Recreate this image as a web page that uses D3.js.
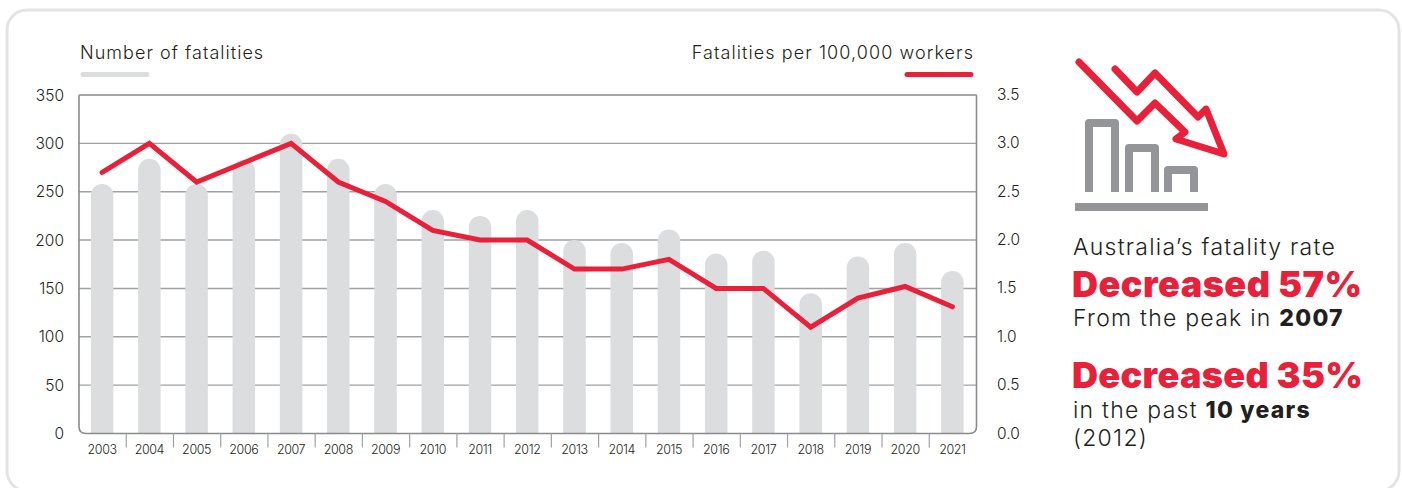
<!DOCTYPE html>
<html><head><meta charset="utf-8">
<script src="https://cdn.jsdelivr.net/npm/d3@7/dist/d3.min.js"></script>
<style>html,body{margin:0;padding:0;background:#fff}svg{display:block}text{font-family:Inter,"Open Sans",sans-serif;fill:#231f20}</style>
</head><body><svg id="c" width="1402" height="488"></svg>
<script>
const years=[2003,2004,2005,2006,2007,2008,2009,2010,2011,2012,2013,2014,2015,2016,2017,2018,2019,2020,2021];
const fatalities=[258,284,258,283,310,284,258,231,225,231,200,197,211,186,189,145,183,197,168];
const rate=[2.7,3.0,2.6,2.8,3.0,2.6,2.4,2.1,2.0,2.0,1.7,1.7,1.8,1.5,1.5,1.1,1.4,1.52,1.31];
const leftTicks=[0,50,100,150,200,250,300,350];
const rightTicks=[0,0.5,1,1.5,2,2.5,3,3.5];
const RED="#e8203a",GREY="#dcddde",AXIS="#8a8b8d";
const svg=d3.select("#c");
const L=79,R=976.5,T=95,B=433.5;
const x=d3.scaleBand().domain(years).range([L,R]);
const y=d3.scaleLinear().domain([0,350]).range([B,T]);
const y2=d3.scaleLinear().domain([0,3.5]).range([B,T]);
const cx=d=>x(d)+x.bandwidth()/2-0.5;
svg.append("rect").attr("x",7).attr("y",10).attr("width",1392).attr("height",481).attr("rx",20).attr("fill","#fff").attr("stroke","#e4e4e4").attr("stroke-width",3);

// grid
svg.append("g").selectAll("line").data(leftTicks.slice(1)).join("line")
 .attr("x1",L).attr("x2",R).attr("y1",d=>y(d)).attr("y2",d=>y(d)).attr("stroke","#a0a1a3").attr("stroke-width",1.4);
// bars with rounded top
const bw=22.5;
svg.append("g").selectAll("path").data(years).join("path").attr("fill",GREY).attr("d",(d,i)=>{
  const c=cx(d),t=y(fatalities[i]),r=bw/2,p=d3.path();
  p.moveTo(c-r,B);p.lineTo(c-r,t+r);p.arc(c,t+r,r,Math.PI,0);p.lineTo(c+r,B);p.closePath();return p.toString();});
// frame
svg.append("path").attr("fill","none").attr("stroke",AXIS).attr("stroke-width",1.6)
 .attr("d",`M${L},${T}V${B-7}Q${L},${B} ${L+7},${B}H${R-7}Q${R},${B} ${R},${B-7}V${T}`);
svg.append("path").attr("fill","none").attr("stroke","#a0a1a3").attr("stroke-width",1.4).attr("d",`M${L},${T}H${R}`);
// x ticks
svg.append("g").selectAll("line").data(years.slice(0,-1)).join("line")
 .attr("x1",d=>x(d)+x.step()).attr("x2",d=>x(d)+x.step()).attr("y1",B).attr("y2",B+14).attr("stroke","#a0a1a3").attr("stroke-width",1.2);
svg.append("g").selectAll("text").data(years).join("text").attr("x",d=>cx(d)).attr("y",454).attr("text-anchor","middle")
 .attr("font-size",12.5).attr("font-weight",350).attr("letter-spacing",-0.4).text(d=>d);
// y labels
svg.append("g").selectAll("text").data(leftTicks).join("text").attr("x",64).attr("y",d=>y(d)+5.5).attr("text-anchor","end").attr("font-size",15.5).attr("font-weight",350).text(d=>d);
svg.append("g").selectAll("text").data(rightTicks).join("text").attr("x",997).attr("y",d=>y2(d)+5).attr("font-size",15.5).attr("font-weight",350).text(d=>d.toFixed(1));
// line
const line=d3.line().x((d,i)=>cx(years[i])).y(d=>y2(d));
svg.append("path").datum(rate).attr("fill","none").attr("stroke",RED).attr("stroke-width",5).attr("stroke-linecap","round").attr("stroke-linejoin","miter").attr("d",line);
// legends
svg.append("text").attr("x",80).attr("y",59).attr("font-size",18).attr("font-weight",350).attr("letter-spacing",1.03).text("Number of fatalities");
svg.append("line").attr("x1",83).attr("x2",147).attr("y1",74.5).attr("y2",74.5).attr("stroke",GREY).attr("stroke-width",5).attr("stroke-linecap","round");
svg.append("text").attr("x",974).attr("y",59).attr("text-anchor","end").attr("font-size",18).attr("font-weight",350).attr("letter-spacing",1.08).text("Fatalities per 100,000 workers");
svg.append("line").attr("x1",907).attr("x2",971).attr("y1",74.5).attr("y2",74.5).attr("stroke",RED).attr("stroke-width",5).attr("stroke-linecap","round");
// icon
const icon=svg.append("g").attr("fill","none").attr("stroke-linejoin","round");
[[[1089,192],[1089,123],[1115,123],[1115,192]],[[1129,192],[1129,148],[1155,148],[1155,192]],[[1168,192],[1168,170],[1194,170],[1194,192]]].forEach(p=>{
 icon.append("path").attr("stroke","#939598").attr("stroke-width",8).attr("stroke-linejoin","round").attr("d",d3.line()(p));});
svg.append("rect").attr("x",1075).attr("y",203).attr("width",133).attr("height",8).attr("fill","#939598");
icon.append("path").attr("stroke",RED).attr("stroke-width",7).attr("stroke-linecap","round")
 .attr("d",d3.line()([[1079,62],[1137,121],[1155,103],[1185,132],[1176,139],[1224,154],[1206,109],[1198,117],[1155,73],[1137,92],[1115,69]]));
// side text
const t=(x0,y0,size,weight,fill,ls)=>svg.append("text").attr("x",x0).attr("y",y0).attr("font-size",size).attr("font-weight",weight).attr("letter-spacing",ls).style("fill",fill);
t(1073,255,23,350,"#231f20",1.25).text("Australia’s fatality rate");
t(1072,297,36,900,RED,0.5).text("Decreased 57%");
t(1073,326,23,350,"#231f20",1.25).call(s=>{s.append("tspan").text("From the peak in ");s.append("tspan").attr("font-weight",800).text("2007");});
t(1072,388,36,900,RED,0.35).text("Decreased 35%");
t(1073,418,23,350,"#231f20",1.25).call(s=>{s.append("tspan").text("in the past ");s.append("tspan").attr("font-weight",800).text("10 years");});
t(1073,446,23,350,"#231f20",1.25).text("(2012)");
</script></body></html>
